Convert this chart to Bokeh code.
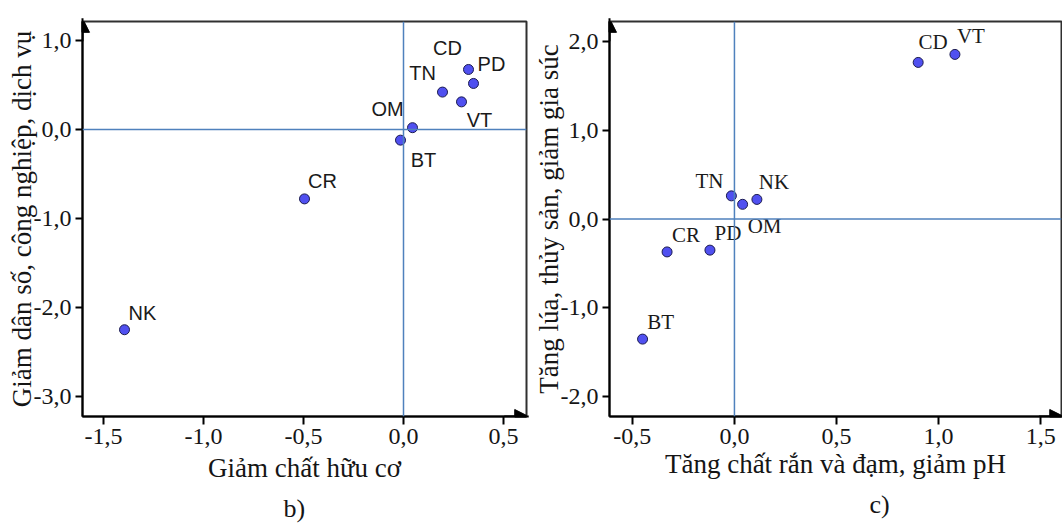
from bokeh.plotting import figure
from bokeh.models import FixedTicker, Span, Arrow, NormalHead, Title, ColumnDataSource, Range1d
from bokeh.layouts import row
from bokeh.embed import file_html
from bokeh.resources import INLINE
from bokeh.core.properties import value

# ---------------- data: panel b ----------------
b_names = ["NK", "CR", "BT", "OM", "TN", "VT", "CD", "PD"]
b_x = [-1.395, -0.495, -0.015, 0.045, 0.195, 0.29, 0.325, 0.35]
b_y = [-2.25, -0.78, -0.12, 0.02, 0.42, 0.31, 0.674, 0.517]
b_xticks = [-1.5, -1.0, -0.5, 0.0, 0.5]
b_xtick_labels = ["-1,5", "-1,0", "-0,5", "0,0", "0,5"]
b_yticks = [-3, -2, -1, 0, 1]
b_ytick_labels = ["-3,0", "-2,0", "-1,0", "0,0", "1,0"]
b_xtitle = "Giảm chất hữu cơ"
b_ytitle = "Giảm dân số, công nghiệp, dịch vụ"
b_caption = "b)"

# ---------------- data: panel c ----------------
c_names = ["TN", "OM", "NK", "CR", "PD", "BT", "CD", "VT"]
c_x = [-0.015, 0.04, 0.11, -0.33, -0.12, -0.45, 0.90, 1.08]
c_y = [0.26, 0.165, 0.22, -0.37, -0.35, -1.35, 1.76, 1.85]
c_xticks = [-0.5, 0.0, 0.5, 1.0, 1.5]
c_xtick_labels = ["-0,5", "0,0", "0,5", "1,0", "1,5"]
c_yticks = [-2, -1, 0, 1, 2]
c_ytick_labels = ["-2,0", "-1,0", "0,0", "1,0", "2,0"]
c_xtitle = "Tăng chất rắn và đạm, giảm pH"
c_ytitle = "Tăng lúa, thủy sản, giảm gia súc"
c_caption = "c)"

# label offsets (pixels) -- styling only
b_label_dx = {"NK": 18, "CR": 18, "BT": 23, "OM": -25, "TN": -20, "VT": 18, "CD": -21, "PD": 18}
b_label_dy = {"NK": -17, "CR": -18, "BT": 20, "OM": -19, "TN": -19, "VT": 18, "CD": -21, "PD": -19}
c_label_dx = {"TN": -22, "OM": 22, "NK": 17, "CR": 19, "PD": 18, "BT": 18, "CD": 15, "VT": 16}
c_label_dy = {"TN": -15, "OM": 22, "NK": -17, "CR": -17, "PD": -17, "BT": -17, "CD": -20, "VT": -18}

SERIF = "Liberation Serif"
SANS = "Liberation Sans"
REF_BLUE = "#4f81bd"
DOT_FILL = "#5050f0"
DOT_LINE = "#1c1c50"


def make_panel(width, xr, yr, xticks, xlabels, yticks, ylabels, xtitle, ytitle,
               names, xs, ys, dx, dy, label_font, label_size,
               border_left, border_right, border_top, ystandoff, xstandoff, caption, cap_offset):
    p = figure(width=width, height=532, output_backend="svg", toolbar_location=None,
               x_range=Range1d(*xr), y_range=Range1d(*yr),
               min_border_left=border_left, min_border_right=border_right,
               min_border_top=border_top, min_border_bottom=116)
    p.xgrid.visible = False
    p.ygrid.visible = False
    p.background_fill_color = "white"
    p.border_fill_color = "white"
    p.outline_line_color = "#303030"
    p.outline_line_width = 2

    p.xaxis.ticker = FixedTicker(ticks=xticks)
    p.xaxis.major_label_overrides = {t: l for t, l in zip(xticks, xlabels)}
    p.yaxis.ticker = FixedTicker(ticks=yticks)
    p.yaxis.major_label_overrides = {t: l for t, l in zip(yticks, ylabels)}
    for ax in (p.xaxis, p.yaxis):
        ax.axis_line_color = "black"
        ax.axis_line_width = 2
        ax.major_tick_line_color = "black"
        ax.major_tick_line_width = 2
        ax.major_tick_in = 0
        ax.minor_tick_line_color = None
        ax.major_label_text_font = SERIF
        ax.major_label_text_font_size = "24px"
        ax.major_label_text_color = "#151515"
        ax.axis_label_text_font = SERIF
        ax.axis_label_text_font_size = "27px"
        ax.axis_label_text_font_style = "normal"
        ax.axis_label_text_color = "#151515"
    p.xaxis.major_tick_out = 8
    p.yaxis.major_tick_out = 7
    p.xaxis.major_label_standoff = 4
    p.yaxis.major_label_standoff = 4
    p.xaxis.axis_label = xtitle
    p.yaxis.axis_label = ytitle
    p.xaxis.axis_label_standoff = xstandoff
    p.yaxis.axis_label_standoff = ystandoff

    p.add_layout(Span(location=0, dimension="width", line_color=REF_BLUE, line_width=1.5))
    p.add_layout(Span(location=0, dimension="height", line_color=REF_BLUE, line_width=1.5))

    src = ColumnDataSource(dict(x=xs, y=ys, name=names,
                                dx=[dx[n] for n in names], dy=[dy[n] for n in names]))
    p.scatter("x", "y", source=src, size=10, fill_color=DOT_FILL, line_color=DOT_LINE, line_width=1)
    p.text("x", "y", text="name", source=src, x_offset="dx", y_offset="dy",
           text_font=value(label_font), text_font_size=label_size, text_color="#1a1a1a",
           text_align="center", text_baseline="middle")

    x0, x1 = xr
    y0, y1 = yr
    head = dict(size=14, fill_color="black", line_color="black")
    p.add_layout(Arrow(end=NormalHead(**head), x_start=x0, y_start=y1 - (y1 - y0) * 0.05,
                       x_end=x0, y_end=y1 + (y1 - y0) * 0.008, line_width=2, line_color="black"))
    p.add_layout(Arrow(end=NormalHead(**head), y_start=y0, x_start=x1 - (x1 - x0) * 0.05,
                       y_end=y0, x_end=x1 + (x1 - x0) * 0.005, line_width=2, line_color="black"))

    p.add_layout(Title(text=caption, align="left", offset=cap_offset, text_font=SERIF,
                       text_font_size="26px", text_font_style="normal", text_color="#151515",
                       standoff=13), "below")
    return p


pb = make_panel(530, (-1.605, 0.615), (-3.225, 1.213), b_xticks, b_xtick_labels, b_yticks,
                b_ytick_labels, b_xtitle, b_ytitle, b_names, b_x, b_y, b_label_dx, b_label_dy,
                SANS, "20px", 82, 4, 21, -6, 6, b_caption, 201)
pc = make_panel(532, (-0.612, 1.602), (-2.22, 2.22), c_xticks, c_xtick_labels, c_yticks,
                c_ytick_labels, c_xtitle, c_ytitle, c_names, c_x, c_y, c_label_dx, c_label_dy,
                SERIF, "21px", 76, 1, 12, -6, 2, c_caption, 260)

layout = row(pb, pc)
open("out.html", "w").write(file_html(layout, INLINE))
